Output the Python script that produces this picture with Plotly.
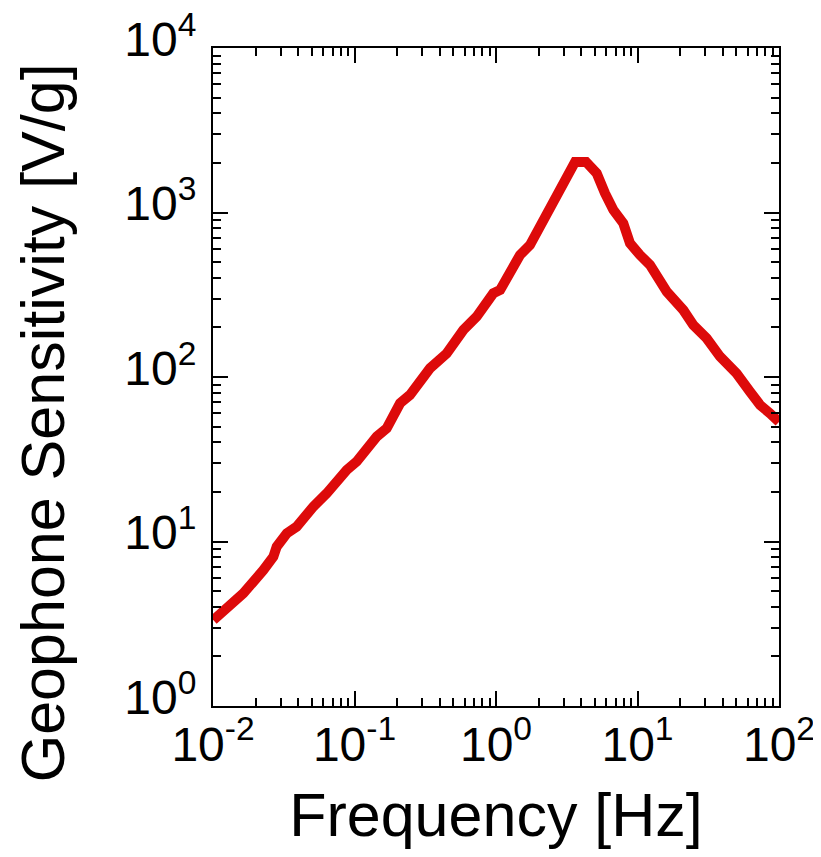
import plotly.graph_objects as go

freq_hz = [0.01005, 0.0125, 0.0164, 0.0227, 0.0267, 0.0282, 0.0332, 0.039, 0.0459, 0.0512,
           0.0636, 0.0748, 0.0881, 0.1036, 0.122, 0.1436, 0.1689, 0.2099, 0.2466, 0.2752,
           0.3418, 0.4483, 0.5875, 0.7306, 0.957, 1.07, 1.256, 1.478, 1.738, 2.046, 2.408,
           2.83, 3.33, 3.62, 4.33, 5.15, 5.89, 6.75, 7.94, 8.85, 10.4, 12.25, 16.1, 21.1,
           24.8, 30.8, 38.3, 50.2, 62.4, 73.5, 86.4, 100.0]
sensitivity_v_per_g = [3.33, 3.93, 4.84, 6.71, 8.08, 9.3, 11.2, 12.3, 14.8, 16.3,
                       19.6, 23.7, 27.2, 30.6, 36.9, 43.4, 48.8, 69.2, 77.8, 87.4,
                       113, 139, 193, 233, 323, 338, 447, 552, 634, 820, 1036,
                       1309, 1770, 2030, 2030, 1731, 1309, 1036, 859, 650, 552, 480, 330, 255,
                       207, 172, 133, 105, 81.4, 67.6, 60.1, 53.3]

x_tickvals = [0.01, 0.1, 1, 10, 100]
x_ticktext = ["10<sup>-2</sup>", "10<sup>-1</sup>", "10<sup>0</sup>", "10<sup>1</sup>", "10<sup>2</sup>"]
y_tickvals = [1, 10, 100, 1000, 10000]
y_ticktext = ["10<sup>0</sup>", "10<sup>1</sup>", "10<sup>2</sup>", "10<sup>3</sup>", "10<sup>4</sup>"]
x_title = "Frequency [Hz]"
y_title = "Geophone Sensitivity [V/g]"

def minors(lo, hi):
    out = []
    d = lo
    while d < hi:
        out += [d * k for k in range(2, 10)]
        d *= 10
    return out

FONT = "Liberation Sans, Arial"

fig = go.Figure()
fig.add_trace(go.Scatter(x=freq_hz, y=sensitivity_v_per_g, mode="lines",
                         line=dict(color="rgb(221,10,10)", width=10),
                         showlegend=False))

axis_common = dict(
    type="log", showgrid=False, zeroline=False, automargin=False,
    showline=True, linecolor="black", linewidth=2, mirror="allticks",
    ticks="inside", ticklen=15, tickwidth=2, tickcolor="black",
    ticklabeloverflow="allow",
    tickfont=dict(family=FONT, size=48, color="black"),
    title_font=dict(family=FONT, size=61, color="black"),
)

fig.update_xaxes(**axis_common, range=[-2, 2], tickmode="array",
                 tickvals=x_tickvals, ticktext=x_ticktext,
                 minor=dict(tickmode="array", tickvals=minors(0.01, 100), ticks="inside",
                            ticklen=8, tickwidth=2, tickcolor="black", showgrid=False),
                 title_text=x_title, title_standoff=24, ticklabelstandoff=-5)
fig.update_yaxes(**axis_common, range=[0, 4], tickmode="array",
                 tickvals=y_tickvals, ticktext=y_ticktext,
                 minor=dict(tickmode="array", tickvals=minors(1, 10000), ticks="inside",
                            ticklen=8, tickwidth=2, tickcolor="black", showgrid=False),
                 ticklabelstandoff=5, ticklabelshift=-9)

fig.add_annotation(text=y_title, xref="paper", yref="paper", x=-0.300, y=0.430,
                   xanchor="center", yanchor="middle", textangle=-90, showarrow=False,
                   font=dict(family=FONT, size=61, color="black"))

fig.update_layout(width=821, height=857, margin=dict(l=205, r=50, t=40, b=159),
                  paper_bgcolor="white", plot_bgcolor="white")
fig.write_html("out.html")
